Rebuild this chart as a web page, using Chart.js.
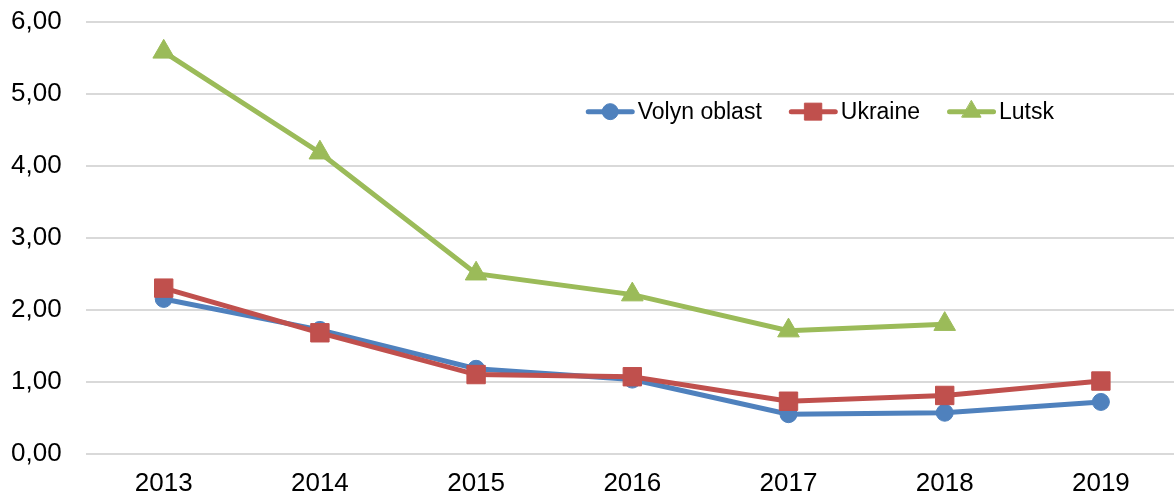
<!DOCTYPE html>
<html>
<head>
<meta charset="utf-8">
<script src="https://cdn.jsdelivr.net/npm/chart.js@4/dist/chart.umd.min.js"></script>
<style>
  html, body { margin: 0; padding: 0; background: #ffffff; overflow: hidden; }
  #wrap { width: 1174px; height: 498px; position: relative; overflow: hidden; }
  #c { position: absolute; left: 0; top: -18px; }
</style>
</head>
<body>
<div id="wrap"><canvas id="c" width="1193" height="516"></canvas></div>
<script>
const categories = ['2013', '2014', '2015', '2016', '2017', '2018', '2019'];
const volynOblast = [2.15, 1.72, 1.18, 1.03, 0.55, 0.57, 0.72];
const ukraine = [2.30, 1.68, 1.10, 1.07, 0.73, 0.81, 1.01];
const lutsk = [5.58, 4.18, 2.50, 2.21, 1.71, 1.80, null];
const seriesNames = ['Volyn oblast', 'Ukraine', 'Lutsk'];
const yTickMin = 0, yTickMax = 6, yTickStep = 1;

const FONT = "'Liberation Sans', Arial, sans-serif";
const legendMarkerRadius = { circle: 8, rect: 12, triangle: 11 };

const insideLegend = {
  id: 'insideLegend',
  afterDraw(chart) {
    const ctx = chart.ctx;
    const area = chart.chartArea;
    ctx.save();
    ctx.font = '23px ' + FONT;
    ctx.textBaseline = 'middle';
    const lineLen = 49, gap = 3, itemGap = 27;
    const items = chart.data.datasets.map(ds => ({ ds, w: lineLen + gap + ctx.measureText(ds.label).width }));
    const total = items.reduce((s, it) => s + it.w, 0) + itemGap * (items.length - 1);
    let x = area.right - 125 - total;
    const y = chart.scales.y.getPixelForValue(4.75);
    items.forEach(it => {
      const ds = it.ds;
      ctx.strokeStyle = ds.borderColor;
      ctx.lineWidth = ds.borderWidth;
      ctx.lineCap = 'round';
      ctx.beginPath();
      ctx.moveTo(x + 2.5, y);
      ctx.lineTo(x + lineLen - 2.5, y);
      ctx.stroke();
      ctx.fillStyle = ds.pointBackgroundColor;
      ctx.strokeStyle = ds.pointBorderColor;
      ctx.lineWidth = 1;
      Chart.helpers.drawPoint(ctx, { pointStyle: ds.pointStyle, rotation: 0, radius: legendMarkerRadius[ds.pointStyle], borderWidth: 1 }, x + lineLen / 2, y);
      ctx.fillStyle = '#000';
      ctx.textAlign = 'left';
      ctx.fillText(ds.label, x + lineLen + gap, y + 1);
      x += it.w + itemGap;
    });
    ctx.restore();
  }
};

const blue = '#4F81BD', red = '#C0504D', green = '#9BBB59';

new Chart(document.getElementById('c'), {
  type: 'line',
  data: {
    labels: categories,
    datasets: [
      { label: seriesNames[0], data: volynOblast, borderColor: blue, backgroundColor: blue,
        pointBackgroundColor: blue, pointBorderColor: blue, pointStyle: 'circle', pointRadius: 8.5,
        pointBorderWidth: 1, borderWidth: 5, tension: 0, order: 3 },
      { label: seriesNames[1], data: ukraine, borderColor: red, backgroundColor: red,
        pointBackgroundColor: red, pointBorderColor: red, pointStyle: 'rect', pointRadius: 13,
        pointBorderWidth: 1, borderWidth: 5, tension: 0, order: 2 },
      { label: seriesNames[2], data: lutsk, borderColor: green, backgroundColor: green,
        pointBackgroundColor: green, pointBorderColor: green, pointStyle: 'triangle', pointRadius: 12.5,
        pointBorderWidth: 1, borderWidth: 5, tension: 0, spanGaps: false, order: 1 }
    ]
  },
  options: {
    responsive: false,
    animation: false,
    events: [],
    layout: { padding: { left: -13, right: 0, top: 3, bottom: -15 } },
    plugins: { legend: { display: false }, tooltip: { enabled: false } },
    scales: {
      x: {
        offset: true,
        grid: { display: false, drawTicks: false },
        border: { display: false },
        ticks: { color: '#000', font: { family: FONT, size: 26 }, padding: 14, maxRotation: 0 }
      },
      y: {
        min: yTickMin, max: yTickMax,
        grid: { color: '#D9D9D9', lineWidth: 2, drawTicks: false },
        border: { display: false },
        ticks: {
          stepSize: yTickStep, color: '#000', font: { family: FONT, size: 26 }, padding: 24,
          callback: v => v.toFixed(2).replace('.', ',')
        }
      }
    }
  },
  plugins: [insideLegend]
});
</script>
</body>
</html>
